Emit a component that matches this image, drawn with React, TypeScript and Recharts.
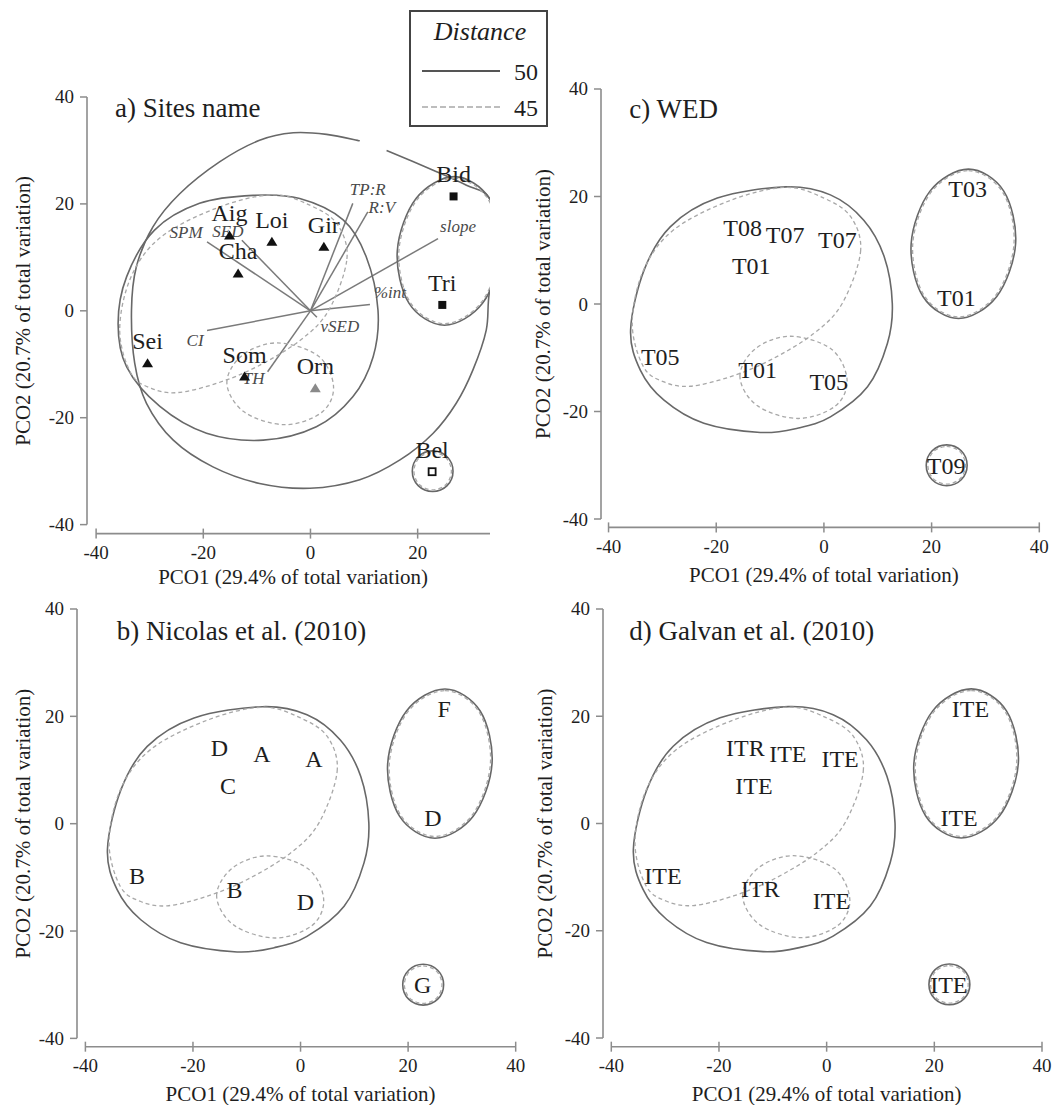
import React from 'react';
import { ScatterChart, Scatter, XAxis, YAxis, ReferenceLine, Legend, Label } from 'recharts';

const FONT = "'Liberation Serif', 'Times New Roman', Times, serif";
const INK = '#1e1e1e';
const AXIS = '#8c8c8c';
const SOLID = '#686868';
const DASHED = '#a8a8a8';

// ---- sites (PCO1, PCO2) ----
const siteNames = ['Aig', 'Loi', 'Gir', 'Cha', 'Sei', 'Som', 'Orn', 'Bid', 'Tri', 'Bel'];
const sitePco1 = [-15.1, -7.2, 2.5, -13.5, -30.4, -12.3, 0.9, 26.7, 24.6, 22.7];
const sitePco2 = [14.1, 12.9, 12.0, 7.0, -9.8, -12.3, -14.5, 21.4, 1.1, -30.1];
const siteSymbols = ['tri', 'tri', 'tri', 'tri', 'tri', 'tri', 'triGrey', 'square', 'square', 'squareOpen'];
const wedLabels = ['T08', 'T07', 'T07', 'T01', 'T05', 'T01', 'T05', 'T03', 'T01', 'T09'];
const nicolasLabels = ['D', 'A', 'A', 'C', 'B', 'B', 'D', 'F', 'D', 'G'];
const galvanLabels = ['ITR', 'ITE', 'ITE', 'ITE', 'ITE', 'ITR', 'ITE', 'ITE', 'ITE', 'ITE'];

// ---- environmental vectors (panel a) ----
const vectorNames = ['SPM', 'SED', 'TP:R', 'R:V', 'slope', '%int', 'CI', 'TH', 'vSED'];
const vectorPco1 = [-19.3, -12.8, 7.9, 10.7, 23.8, 11.1, -19.3, -8.0, 1.2];
const vectorPco2 = [12.9, 13.2, 20.1, 18.5, 13.5, 1.2, -3.7, -11.4, -1.2];

const axisTicks = [-40, -20, 0, 20, 40];
const distanceLevels = [50, 45];

// ---- cluster outlines (PCO1, PCO2) ----
const mainSolid: [number, number][] = [
  [-35.9, -4.8], [-33.4, 6.3], [-28.5, 14.4], [-19.8, 19.7], [-7.1, 21.8], [1.2, 20.3],
  [7.4, 15.6], [11.2, 8.8], [12.7, 0.1], [11.8, -7.3], [8.1, -15.4], [1.2, -21],
  [-4.9, -23.1], [-11.8, -23.9], [-22.3, -22.2], [-29.7, -17.9], [-34.1, -12.3],
];
const mainSolidA: [number, number][] = [
  [-35.9, -2.4], [-34.3, 6.4], [-29.1, 15.1], [-20.7, 20.1], [-10.7, 21.6], [-2, 21],
  [6.1, 17], [10.4, 10.1], [12.6, 0.1], [11.7, -8.6], [7.9, -16.1], [1.1, -21.7],
  [-8.8, -24.2], [-19.4, -22.9], [-28.1, -17.9], [-34.3, -10.5],
];
const diagDashed: [number, number][] = [
  [6.8, 9.7], [5.0, 16.2], [0, 19.7], [-7.1, 21.7], [-17.3, 19.3], [-27.9, 13.8],
  [-33.5, 6.3], [-35.6, -3.6], [-33.5, -11.7], [-29.7, -14.5], [-24.8, -15.3],
  [-17.3, -13.5], [-9.9, -10.4], [-1.9, -5.5], [3.4, 0.1],
];
const lowDashed: [number, number][] = [
  [-15.6, -13.5], [-12.7, -8.3], [-6.2, -6.0], [1.4, -8.4], [4.3, -14.1], [2.1, -19.0],
  [-4.8, -21.3], [-12.4, -18.9],
];
const rightSolid: [number, number][] = [
  [26.85, 25.1], [33.4, 21.0], [35.6, 11.2], [32.1, 1.4], [25.0, -2.7], [18.4, 1.4], [16.2, 11.2], [19.7, 21.0],
];
const rightDashed: [number, number][] = [
  [26.85, 24.8], [33.2, 20.8], [35.3, 11.2], [31.9, 1.6], [25.0, -2.4], [18.6, 1.6], [16.5, 11.2], [19.9, 20.8],
];
const lowerSolid: [number, number][] = [
  [22.8, -26.2], [25.5, -27.3], [26.6, -30], [25.5, -32.7], [22.8, -33.8], [20.1, -32.7], [19, -30], [20.1, -27.3],
];
const lowerDashed: [number, number][] = [
  [22.8, -26.5], [25.3, -27.5], [26.3, -30], [25.3, -32.5], [22.8, -33.5], [20.3, -32.5], [19.3, -30], [20.3, -27.5],
];
const bigArcA: [number, number][] = [
  [14.2, 30], [22.9, 26.3], [29.1, 23.5], [33.45, 21], [35.6, 12.5], [33.4, 3.5], [32.8, -3.6],
  [30.3, -11.1], [27.2, -17.3], [22.9, -22.9], [16.7, -27.9], [9.2, -31.6], [-0.1, -33.2],
  [-9.5, -32.3], [-18.2, -29.2], [-25.6, -24.2], [-30.6, -17.3], [-32.8, -9.8], [-33.4, 0.1],
  [-32.5, 8.2], [-29.4, 15.7], [-24.4, 21.9], [-16.9, 27.9], [-9.5, 31.9], [-3.2, 33.3],
  [3, 33], [9.2, 31.8],
];

// pixel offsets of the vector names from the arrow tips
const vectorLabelOffset: Record<string, [number, number]> = {
  SPM: [-21, -9], SED: [-14, -9], 'TP:R': [15, -14], 'R:V': [14, -4], slope: [20, -12],
  '%int': [20, -12], CI: [-12, 10], TH: [-14, 7], vSED: [23, 9],
};

// smooth curve through outline points (Catmull-Rom), used as Recharts curve factory
function catmullRom(closed: boolean) {
  return (context: any) => {
    let pts: number[][] = [];
    return {
      areaStart() {},
      areaEnd() {},
      lineStart() { pts = []; },
      point(x: number, y: number) { pts.push([+x, +y]); },
      lineEnd() {
        const n = pts.length;
        if (n < 2) return;
        const at = (i: number) => (closed ? pts[(i + n) % n] : pts[Math.max(0, Math.min(n - 1, i))]);
        context.moveTo(pts[0][0], pts[0][1]);
        const segs = closed ? n : n - 1;
        for (let i = 0; i < segs; i++) {
          const p0 = at(i - 1), p1 = at(i), p2 = at(i + 1), p3 = at(i + 2);
          context.bezierCurveTo(
            p1[0] + (p2[0] - p0[0]) / 6, p1[1] + (p2[1] - p0[1]) / 6,
            p2[0] - (p3[0] - p1[0]) / 6, p2[1] - (p3[1] - p1[1]) / 6,
            p2[0], p2[1],
          );
        }
        if (closed) context.closePath();
      },
    };
  };
}
const closedCurve = catmullRom(true);
const openCurve = catmullRom(false);

const toPoints = (pairs: [number, number][]) => pairs.map(([x, y]) => ({ x, y }));
const siteData = (labels: string[]) =>
  siteNames.map((name, i) => ({ x: sitePco1[i], y: sitePco2[i], name, label: labels[i], symbol: siteSymbols[i] }));
const vectorData = vectorNames.map((name, i) => ({ x: vectorPco1[i], y: vectorPco2[i], name }));

const noShape = () => <g />;

const outline = (key: string, pairs: [number, number][], dashed: boolean, closed = true) => (
  <Scatter
    key={key}
    name={key}
    data={toPoints(pairs)}
    fill="none"
    shape={noShape}
    line={{
      stroke: dashed ? DASHED : SOLID,
      strokeWidth: dashed ? 1.3 : 1.6,
      strokeDasharray: dashed ? '4 3' : undefined,
      fill: 'none',
    }}
    lineType="joint"
    lineJointType={closed ? closedCurve : openCurve}
    legendType="none"
    isAnimationActive={false}
  />
);

const textLabel = (props: any) => (
  <text
    x={props.cx}
    y={props.cy}
    textAnchor="middle"
    dominantBaseline="central"
    fontSize={24}
    fontFamily={FONT}
    fill={INK}
  >
    {props.payload.label}
  </text>
);

const siteMarker = (props: any) => {
  const { cx, cy, payload } = props;
  let mark;
  if (payload.symbol === 'tri' || payload.symbol === 'triGrey') {
    mark = (
      <polygon
        points={`${cx},${cy - 5} ${cx - 5.5},${cy + 4} ${cx + 5.5},${cy + 4}`}
        fill={payload.symbol === 'tri' ? '#111' : '#8a8a8a'}
      />
    );
  } else if (payload.symbol === 'square') {
    mark = <rect x={cx - 4} y={cy - 4} width={8} height={8} fill="#111" />;
  } else {
    mark = <rect x={cx - 3.5} y={cy - 3.5} width={7} height={7} fill="#fff" stroke="#111" strokeWidth={1.8} />;
  }
  return (
    <g>
      {mark}
      <text x={cx} y={cy - 22} textAnchor="middle" dominantBaseline="central" fontSize={24} fontFamily={FONT} fill={INK}>
        {payload.name}
      </text>
    </g>
  );
};

const vectorLabel = (props: any) => {
  const [dx, dy] = vectorLabelOffset[props.payload.name] || [0, 0];
  return (
    <text
      x={props.cx + dx}
      y={props.cy + dy}
      textAnchor="middle"
      dominantBaseline="central"
      fontSize={17}
      fontStyle="italic"
      fontFamily={FONT}
      fill="#4a4a4a"
    >
      {props.payload.name}
    </text>
  );
};

const renderXTick = (props: any) => {
  const { x, y, payload } = props;
  return (
    <g>
      <line x1={x} x2={x} y1={y - 5} y2={y + 5} stroke={AXIS} strokeWidth={1.5} />
      <text x={x} y={y + 19} textAnchor="middle" dominantBaseline="central" fontSize={19} fontFamily={FONT} fill={INK}>
        {payload.value}
      </text>
    </g>
  );
};

const renderYTick = (props: any) => {
  const { x, y, payload } = props;
  return (
    <g>
      <line x1={x - 7} x2={x} y1={y} y2={y} stroke={AXIS} strokeWidth={1.5} />
      <text x={x - 13} y={y} textAnchor="end" dominantBaseline="central" fontSize={19} fontFamily={FONT} fill={INK}>
        {payload.value}
      </text>
    </g>
  );
};

const renderDistanceLegend = () => (
  <svg width={139} height={117} style={{ display: 'block' }}>
    <rect x={1} y={1} width={137} height={115} fill="#fff" stroke="#444" strokeWidth={2} />
    <text x={71} y={21} textAnchor="middle" dominantBaseline="central" fontStyle="italic" fontSize={26} fontFamily={FONT} fill={INK}>
      Distance
    </text>
    {distanceLevels.map((lvl, i) => (
      <g key={lvl}>
        <line
          x1={13}
          x2={91}
          y1={61 + i * 36}
          y2={61 + i * 36}
          stroke={i ? DASHED : '#555'}
          strokeWidth={i ? 1.5 : 1.8}
          strokeDasharray={i ? '6 3' : undefined}
        />
        <text x={129} y={62 + i * 36} textAnchor="end" dominantBaseline="central" fontSize={24} fontFamily={FONT} fill={INK}>
          {lvl}
        </text>
      </g>
    ))}
  </svg>
);

type PanelCfg = {
  title: string;
  left: number; // page x of the y-axis line
  top: number; // page y of the +40 tick
  plotW: number;
  plotH: number;
  mt: number;
  mr: number;
  xDomain: [number, number];
  yDomain: [number, number];
  xTicks: number[];
  xEnd: number;
  titleDx: number;
  titleDy: number;
  xTitleDy: number;
  yTitleDx: number;
};

const YW = 80;
const XH = 58;

function renderPanel(cfg: PanelCfg, series: React.ReactNode[], extra: React.ReactNode[] = []) {
  const width = YW + cfg.plotW + cfg.mr;
  const height = cfg.mt + cfg.plotH + XH;
  const [x0, x1] = cfg.xDomain;
  const [y0] = cfg.yDomain;
  const xMid = YW + (((-40 + cfg.xEnd) / 2 - x0) / (x1 - x0)) * cfg.plotW;
  const yMid = cfg.mt + (40 / (40 - y0)) * cfg.plotH;
  return (
    <div key={cfg.title} style={{ position: 'absolute', left: cfg.left - YW, top: cfg.top - cfg.mt }}>
      <ScatterChart width={width} height={height} margin={{ top: cfg.mt, right: cfg.mr, bottom: 0, left: 0 }}>
        <XAxis
          type="number"
          dataKey="x"
          domain={cfg.xDomain}
          ticks={cfg.xTicks}
          interval={0}
          allowDataOverflow
          axisLine={false}
          tickLine={false}
          tickSize={0}
          tickMargin={0}
          height={XH}
          tick={renderXTick}
        >
          <Label
            content={() => (
              <text x={xMid} y={cfg.mt + cfg.plotH + cfg.xTitleDy} textAnchor="middle" dominantBaseline="central" fontSize={21} fontFamily={FONT} fill={INK}>
                PCO1 (29.4% of total variation)
              </text>
            )}
          />
        </XAxis>
        <YAxis
          type="number"
          dataKey="y"
          domain={cfg.yDomain}
          ticks={axisTicks}
          interval={0}
          allowDataOverflow
          axisLine={false}
          tickLine={false}
          tickSize={0}
          tickMargin={0}
          width={YW}
          tick={renderYTick}
        >
          <Label
            content={() => (
              <text
                x={YW + cfg.yTitleDx}
                y={yMid}
                transform={`rotate(-90 ${YW + cfg.yTitleDx} ${yMid})`}
                textAnchor="middle"
                dominantBaseline="central"
                fontSize={21}
                fontFamily={FONT}
                fill={INK}
              >
                PCO2 (20.7% of total variation)
              </text>
            )}
          />
          <Label
            content={() => (
              <text x={YW + cfg.titleDx} y={cfg.mt + cfg.titleDy} dominantBaseline="central" fontSize={27} fontFamily={FONT} fill={INK}>
                {cfg.title}
              </text>
            )}
          />
        </YAxis>
        <ReferenceLine segment={[{ x: x0, y: -40 }, { x: x0, y: 40 }]} stroke={AXIS} strokeWidth={1.6} />
        <ReferenceLine segment={[{ x: -40, y: y0 }, { x: cfg.xEnd, y: y0 }]} stroke={AXIS} strokeWidth={1.6} />
        {series}
        {extra}
      </ScatterChart>
    </div>
  );
}

const panelA: PanelCfg = {
  title: 'a) Sites name', left: 87, top: 96.7, plotW: 403, plotH: 436.6, mt: 90, mr: 60,
  xDomain: [-41.7, 33.5], yDomain: [-41.68, 40], xTicks: [-40, -20, 0, 20], xEnd: 33.5,
  titleDx: 28, titleDy: 11.3, xTitleDy: 43.4, yTitleDx: -64,
};
const panelC: PanelCfg = {
  title: 'c) WED', left: 600.7, top: 89.3, plotW: 438.3, plotH: 438.4, mt: 30, mr: 12,
  xDomain: [-41.4, 40], yDomain: [-41.56, 40], xTicks: axisTicks, xEnd: 40,
  titleDx: 28.3, titleDy: 19.7, xTitleDy: 47.3, yTitleDx: -57.7,
};
const panelB: PanelCfg = {
  title: 'b) Nicolas et al. (2010)', left: 77.3, top: 609.3, plotW: 438.7, plotH: 437.7, mt: 30, mr: 20,
  xDomain: [-41.56, 40], yDomain: [-41.55, 40], xTicks: axisTicks, xEnd: 40,
  titleDx: 39.7, titleDy: 21.7, xTitleDy: 47, yTitleDx: -54,
};
const panelD: PanelCfg = {
  title: 'd) Galvan et al. (2010)', left: 602.7, top: 609.3, plotW: 439, plotH: 437.7, mt: 30, mr: 10,
  xDomain: [-41.54, 40], yDomain: [-41.62, 40], xTicks: axisTicks, xEnd: 40,
  titleDx: 26.3, titleDy: 21.7, xTitleDy: 47, yTitleDx: -57.7,
};

const sharedOutlines = (prefix: string) => [
  outline(prefix + '-main50', mainSolid, false),
  outline(prefix + '-diag45', diagDashed, true),
  outline(prefix + '-low45', lowDashed, true),
  outline(prefix + '-right50', rightSolid, false),
  outline(prefix + '-right45', rightDashed, true),
  outline(prefix + '-lower50', lowerSolid, false),
  outline(prefix + '-lower45', lowerDashed, true),
];

const labelSeries = (key: string, labels: string[]) => (
  <Scatter key={key} name={key} data={siteData(labels)} shape={textLabel} legendType="none" isAnimationActive={false} />
);

export default function App() {
  const seriesA = [
    outline('a-big50', bigArcA, false, false),
    outline('a-main50', mainSolidA, false),
    outline('a-diag45', diagDashed, true),
    outline('a-low45', lowDashed, true),
    outline('a-right50', rightSolid, false),
    outline('a-right45', rightDashed, true),
    outline('a-lower50', lowerSolid, false),
    outline('a-lower45', lowerDashed, true),
    ...vectorData.map((v) => (
      <ReferenceLine key={'vec-' + v.name} segment={[{ x: 0, y: 0 }, { x: v.x, y: v.y }]} stroke="#7a7a7a" strokeWidth={1.5} />
    )),
    <Scatter key="vec-labels" name="vectors" data={vectorData} shape={vectorLabel} legendType="none" isAnimationActive={false} />,
    <Scatter key="sites" name="sites" data={siteData(siteNames)} shape={siteMarker} legendType="none" isAnimationActive={false} />,
  ];
  const legend = [
    <Legend
      key="legend"
      layout="horizontal"
      align="center"
      verticalAlign="middle"
      width={139}
      height={117}
      content={renderDistanceLegend}
      wrapperStyle={{ left: 409 - (panelA.left - YW), top: 10 - (panelA.top - panelA.mt), width: 139, height: 117 }}
    />,
  ];

  return (
    <div
      style={{
        position: 'fixed',
        left: 0,
        top: 0,
        width: 1052,
        height: 1106,
        overflow: 'hidden',
        background: '#fff',
      }}
    >
      {renderPanel(panelC, [...sharedOutlines('c'), labelSeries('c-labels', wedLabels)])}
      {renderPanel(panelB, [...sharedOutlines('b'), labelSeries('b-labels', nicolasLabels)])}
      {renderPanel(panelD, [...sharedOutlines('d'), labelSeries('d-labels', galvanLabels)])}
      {renderPanel(panelA, seriesA, legend)}
    </div>
  );
}
